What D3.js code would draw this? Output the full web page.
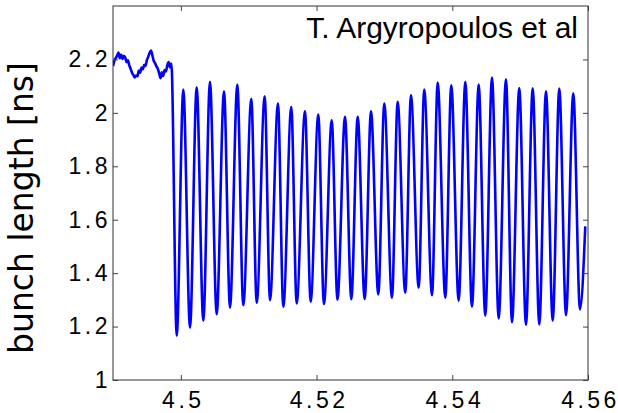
<!DOCTYPE html>
<html lang="en">
<head>
    <meta charset="UTF-8">
    <title>bunch length</title>
    <script src="https://d3js.org/d3.v7.min.js"></script>
    <style>
        body { margin: 0; background: #fff; }
        .tick line { stroke: #444; }
        .domain { display: none; }
    </style>
</head>
<body>
    <svg id="svg" width="618" height="413"></svg>

    <script>
        // quiet part before the kick
        const noiseTime = [4.4900, 4.4902, 4.4904, 4.4906, 4.4908, 4.4910, 4.4912, 4.4914, 4.4916, 4.4918,
            4.4920, 4.4922, 4.4924, 4.4926, 4.4928, 4.4930, 4.4932, 4.4934, 4.4936, 4.4938,
            4.4940, 4.4942, 4.4944, 4.4946, 4.4948, 4.4950, 4.4952, 4.4954, 4.4956, 4.4958,
            4.4960, 4.4962, 4.4964, 4.4966, 4.4968, 4.4970, 4.4972, 4.4974, 4.4976, 4.4978,
            4.4980, 4.4982, 4.4984, 4.4986];
        const noiseLength = [2.175, 2.195, 2.205, 2.214, 2.226, 2.205, 2.218, 2.202, 2.214, 2.207,
            2.190, 2.197, 2.178, 2.165, 2.150, 2.142, 2.133, 2.140, 2.137, 2.158,
            2.150, 2.170, 2.163, 2.180, 2.176, 2.198, 2.210, 2.225, 2.233, 2.215,
            2.195, 2.186, 2.174, 2.165, 2.148, 2.130, 2.152, 2.138, 2.160, 2.155,
            2.178, 2.190, 2.170, 2.185];

        // oscillation: minima and maxima
        const troughTime = [4.49939, 4.50135, 4.50331, 4.50528, 4.50724, 4.50920, 4.51118, 4.51314, 4.51510, 4.51707,
            4.51913, 4.52109, 4.52308, 4.52512, 4.52709, 4.52910, 4.53111, 4.53307, 4.53505, 4.53701,
            4.53897, 4.54094, 4.54290, 4.54486, 4.54684, 4.54880, 4.55086, 4.55282, 4.55480, 4.55676,
            4.55882];
        const troughLength = [1.166, 1.196, 1.222, 1.246, 1.271, 1.280, 1.289, 1.299, 1.274, 1.287,
            1.293, 1.284, 1.301, 1.302, 1.303, 1.320, 1.308, 1.327, 1.346, 1.317,
            1.308, 1.297, 1.274, 1.241, 1.230, 1.216, 1.206, 1.208, 1.222, 1.243,
            1.264];
        const peakTime = [4.50036, 4.50233, 4.50429, 4.50636, 4.50832, 4.51038, 4.51235, 4.51431, 4.51627, 4.51829,
            4.52025, 4.52223, 4.52419, 4.52606, 4.52802, 4.52998, 4.53195, 4.53391, 4.53587, 4.53785,
            4.53985, 4.54192, 4.54389, 4.54585, 4.54791, 4.54987, 4.55185, 4.55381, 4.55577, 4.55783];
        const peakLength = [2.087, 2.096, 2.116, 2.081, 2.106, 2.053, 2.062, 2.035, 2.022, 2.006,
            1.994, 1.972, 1.985, 1.985, 2.006, 2.035, 2.041, 2.066, 2.087, 2.113,
            2.103, 2.116, 2.106, 2.132, 2.126, 2.093, 2.092, 2.081, 2.091, 2.073];
        const tailTime = [4.55960];
        const tailLength = [1.575];

        const xTicks = [4.5, 4.52, 4.54, 4.56];
        const yTicks = [1, 1.2, 1.4, 1.6, 1.8, 2, 2.2];

        let points = noiseTime.map((t, i) => ({ t: t, v: noiseLength[i] }));
        troughTime.forEach((t, i) => {
            points.push({ t: t, v: troughLength[i] });
            if (i < peakTime.length) points.push({ t: peakTime[i], v: peakLength[i] });
        });
        tailTime.forEach((t, i) => points.push({ t: t, v: tailLength[i] }));

        const svg = d3.select('svg');
        const margin = { left: 113, top: 6, right: 30, bottom: 33 };
        const width = 618 - margin.left - margin.right;
        const height = 413 - margin.top - margin.bottom;

        const plot = svg.append('g')
            .attr('transform', `translate(${margin.left},${margin.top})`);

        const x = d3.scaleLinear().domain([4.49, 4.56]).range([0, width]);
        const y = d3.scaleLinear().domain([1, 2.4]).range([height, 0]);

        plot.append('clipPath').attr('id', 'clip')
            .append('rect').attr('width', width).attr('height', height);

        const line = d3.line()
            .x(d => x(d.t))
            .y(d => y(d.v))
            .curve(d3.curveMonotoneX);

        plot.append('path')
            .datum(points)
            .attr('clip-path', 'url(#clip)')
            .attr('fill', 'none')
            .attr('stroke', '#0000ff')
            .attr('stroke-width', 2.6)
            .attr('stroke-linejoin', 'round')
            .attr('d', line);

        const tickFont = '"Liberation Sans", Arial, sans-serif';

        const bottom = plot.append('g')
            .attr('transform', `translate(0,${height})`)
            .call(d3.axisBottom(x).tickValues(xTicks).tickFormat(d3.format('')).tickSize(-5).tickPadding(12).tickSizeOuter(0));
        const left = plot.append('g')
            .call(d3.axisLeft(y).tickValues(yTicks).tickFormat(d3.format('')).tickSize(-5).tickPadding(2).tickSizeOuter(0));
        plot.append('g')
            .call(d3.axisTop(x).tickValues(xTicks).tickFormat('').tickSize(-5).tickSizeOuter(0));
        plot.append('g')
            .attr('transform', `translate(${width},0)`)
            .call(d3.axisRight(y).tickValues(yTicks).tickFormat('').tickSize(-5).tickSizeOuter(0));

        [bottom, left].forEach(g => g.selectAll('text')
            .attr('fill', '#000')
            .style('font-family', tickFont)
            .style('font-size', '23px')
            .style('letter-spacing', '3.5px'));
        bottom.selectAll('text').attr('dx', 2);

        plot.append('rect')
            .attr('width', width)
            .attr('height', height)
            .attr('fill', 'none')
            .attr('stroke', '#333')
            .attr('stroke-width', 1);

        svg.append('text')
            .attr('transform', 'translate(33,208) rotate(-90)')
            .attr('text-anchor', 'middle')
            .style('font-family', '"DejaVu Sans", sans-serif')
            .style('font-size', '33px')
            .text('bunch length [ns]');

        svg.append('text')
            .attr('x', 578)
            .attr('y', 38)
            .attr('text-anchor', 'end')
            .style('font-family', tickFont)
            .style('font-size', '30px')
            .text('T. Argyropoulos et al');
    </script>
</body>
</html>
